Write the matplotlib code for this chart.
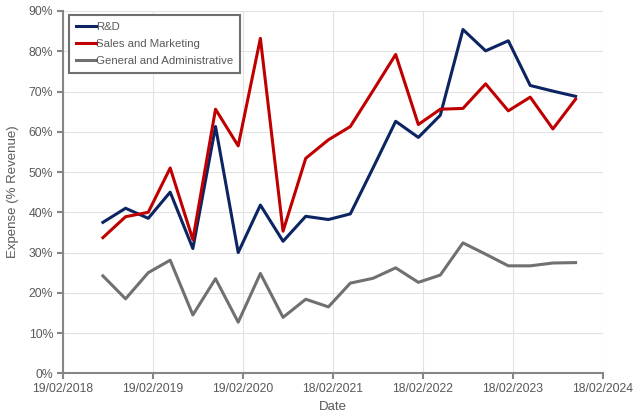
import pandas as pd
import numpy as np
import matplotlib
matplotlib.use("Agg")
import matplotlib.pyplot as plt
import matplotlib.dates as mdates
from matplotlib.ticker import FuncFormatter

# Quarter-end dates
dates = pd.to_datetime([
    "2018-07-31", "2018-10-31", "2019-01-31", "2019-04-30",
    "2019-07-31", "2019-10-31", "2020-01-31", "2020-04-30",
    "2020-07-31", "2020-10-31", "2021-01-31", "2021-04-30",
    "2021-07-31", "2021-10-31", "2022-01-31", "2022-04-30",
    "2022-07-31", "2022-10-31", "2023-01-31", "2023-04-30",
    "2023-07-31", "2023-10-31",
])

# Expense as % of revenue
rnd = [37.5, 41.0, 38.5, 45.0, 31.0, 61.3, 30.0, 41.8, 32.8, 39.0, 38.2,
       39.6, 51.0, 62.6, 58.6, 64.1, 85.4, 80.1, 82.6, 71.5, 70.1, 68.8]
sales = [33.7, 38.9, 40.0, 51.0, 33.2, 65.6, 56.5, 83.2, 35.3, 53.4, 58.0,
         61.3, 70.2, 79.2, 61.8, 65.6, 65.8, 71.9, 65.2, 68.6, 60.7, 68.1]
ga = [24.2, 18.5, 25.0, 28.1, 14.5, 23.5, 12.7, 24.8, 13.9, 18.4, 16.5,
      22.4, 23.6, 26.2, 22.6, 24.4, 32.4, 29.6, 26.7, 26.7, 27.4, 27.5]

tick_dates = pd.to_datetime([
    "2018-02-19", "2019-02-19", "2020-02-19", "2021-02-18",
    "2022-02-18", "2023-02-18", "2024-02-18",
])

plt.rcParams['font.family'] = ['Liberation Sans', 'DejaVu Sans']
text_gray = "#595959"
axis_gray = "#868686"

fig = plt.figure(figsize=(6.4, 4.18), dpi=100)
ax = fig.add_axes([0.0984, 0.1069, 0.8433, 0.8668])

ax.plot(dates, rnd, color="#0C2461", lw=2.2, label="R&D")
ax.plot(dates, sales, color="#C00000", lw=2.2, label="Sales and Marketing")
ax.plot(dates, ga, color="#707070", lw=2.2, label="General and Administrative")

ax.set_xlim(tick_dates[0], tick_dates[-1])
ax.set_ylim(0, 90)
ax.set_xticks(tick_dates)
ax.xaxis.set_major_formatter(mdates.DateFormatter("%d/%m/%Y"))
ax.set_yticks(np.arange(0, 91, 10))
ax.yaxis.set_major_formatter(FuncFormatter(lambda v, p: f"{v:.0f}%"))

ax.grid(True, color="#E3E3E3", lw=0.8)
ax.set_axisbelow(True)
for s in ["top", "right"]:
    ax.spines[s].set_visible(False)
for s in ["left", "bottom"]:
    ax.spines[s].set_color(axis_gray)
    ax.spines[s].set_linewidth(1.5)
ax.tick_params(colors=axis_gray, labelcolor=text_gray, labelsize=8.8,
               length=4, width=1.5, pad=3)

ax.set_xlabel("Date", color=text_gray, fontsize=9.5, labelpad=4)
ax.set_ylabel("Expense (% Revenue)", color=text_gray, fontsize=9.5, labelpad=7)

leg = ax.legend(loc="upper left", bbox_to_anchor=(0.011, 0.989), fontsize=8.2,
                handlelength=1.75, handletextpad=0.05, labelspacing=0.62,
                borderpad=0.6, borderaxespad=0.0, fancybox=False, framealpha=1)
leg.get_frame().set_edgecolor("#707070")
leg.get_frame().set_linewidth(1.5)
for t in leg.get_texts():
    t.set_color(text_gray)

plt.savefig("out.png", dpi=100)
